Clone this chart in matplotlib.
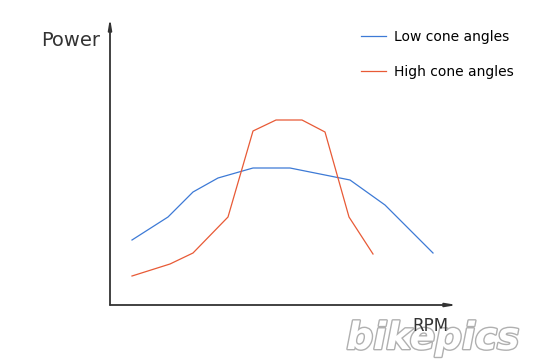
import matplotlib
matplotlib.use("Agg")
import matplotlib.pyplot as plt
import matplotlib.patheffects as pe

# Data (RPM in arbitrary units, Power in arbitrary units)
rpm_low = [22, 58, 83, 108, 143, 180, 240, 275, 323]
power_low = [65, 88, 113, 127, 137, 137, 125, 100, 52]
rpm_high = [22, 60, 83, 118, 143, 166, 192, 215, 239, 263]
power_high = [29, 41, 52, 88, 174, 185, 185, 173, 88, 51]
series_labels = ["Low cone angles", "High cone angles"]
colors = ["#3d7ad6", "#e85a36"]

fig = plt.figure(figsize=(5.53, 3.6), dpi=100)
ax = fig.add_axes([110/553, 55/360, 347/553, 287/360])
ax.set_xlim(0, 347)
ax.set_ylim(0, 287)

l1, = ax.plot(rpm_low, power_low, color=colors[0], lw=0.9)
l2, = ax.plot(rpm_high, power_high, color=colors[1], lw=0.9)

for s in ax.spines.values():
    s.set_visible(False)
ax.set_xticks([])
ax.set_yticks([])

axis_col = "#333333"
# axes with arrows
ax.annotate("", xy=(0, 287), xytext=(0, 0), xycoords="data",
            arrowprops=dict(arrowstyle="-|>,head_length=0.6,head_width=0.1",
                            color=axis_col, lw=1.3, shrinkA=0, shrinkB=0),
            annotation_clip=False)
ax.annotate("", xy=(347, 0), xytext=(0, 0), xycoords="data",
            arrowprops=dict(arrowstyle="-|>,head_length=0.6,head_width=0.1",
                            color=axis_col, lw=1.3, shrinkA=0, shrinkB=0),
            annotation_clip=False)

font = "DejaVu Sans"
fig.text(100/553, 1 - 41/360, "Power", ha="right", va="center",
         fontsize=14, family=font, color="#333333")

# watermark
fig.text(433/553, 1 - 339/360, "bikepics", ha="center", va="center",
         fontsize=27, family="DejaVu Sans", fontweight="bold", style="italic",
         color="white",
         path_effects=[pe.withStroke(linewidth=2.0, foreground="#b0b0b0")],
         zorder=-1)

fig.text(430/553, 1 - 326/360, "RPM", ha="center", va="center",
         fontsize=12, family=font, color="#333333")

leg = fig.legend([l1, l2], series_labels, loc="upper left",
                 bbox_to_anchor=(348/553, 1 - 17/360), frameon=False,
                 handlelength=1.8, handletextpad=0.6, labelspacing=1.55,
                 prop=dict(family=font, size=10))

fig.savefig("out.png", dpi=100)
